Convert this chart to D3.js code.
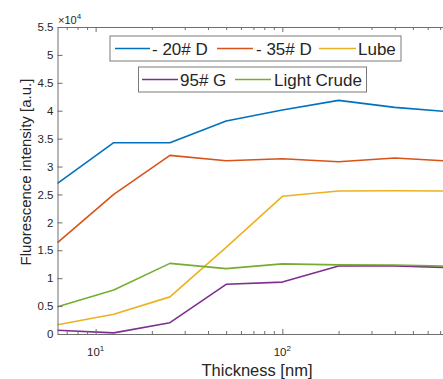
<!DOCTYPE html>
<html>
<head>
<meta charset="utf-8">
<script src="https://cdn.jsdelivr.net/npm/d3@7"></script>
<style>
  html, body { margin: 0; padding: 0; background: #fff; overflow: hidden; }
  svg { display: block; font-family: "Liberation Sans", Arial, Helvetica, sans-serif; }
</style>
</head>
<body>
<svg id="chart" width="443" height="379"></svg>
<script>
// Film thickness (nm) at which each sample was measured
const thickness = [6.25, 12.5, 25, 50, 100, 200, 400, 800];

// Fluorescence intensity per sample (a.u.)
const seriesNames = ["- 20# D", "- 35# D", "Lube", "95# G", "Light Crude"];
const d20 = [27000, 34270, 34270, 38160, 40130, 41850, 40600, 39800];
const d35 = [16360, 25030, 32000, 31050, 31400, 30870, 31530, 30950];
const lube = [1670, 3530, 6650, 15530, 24670, 25620, 25670, 25600];
const g95 = [660, 200, 2030, 8900, 9300, 12200, 12200, 11900];
const lightCrude = [4900, 7880, 12650, 11720, 12560, 12380, 12360, 12150];
const seriesColors = ["#0072BD", "#D95319", "#EDB120", "#7E2F8E", "#77AC30"];

// Axis ticks
const yTicks = [0, 5000, 10000, 15000, 20000, 25000, 30000, 35000, 40000, 45000, 50000, 55000];
const xMajorTicks = [10, 100];
const xMinorTicks = [7, 8, 9, 20, 30, 40, 50, 60, 70, 80, 90, 200, 300, 400, 500, 600, 700, 800];
const xTickExponents = ["1", "2"];

const allSeries = [d20, d35, lube, g95, lightCrude];

const svg = d3.select("#chart");
const plotLeft = 57.5, plotTop = 27, plotBottom = 334, plotRight = 451;

const x = d3.scaleLog().domain([6.25, 800]).range([plotLeft, plotRight]);
const y = d3.scaleLinear().domain([0, 55000]).range([plotBottom, plotTop]);

const axisColor = "#6e6e6e";
const textColor = "#262626";

// Data lines
const line = d3.line().x((d, i) => x(thickness[i])).y(d => y(d));
allSeries.forEach((vals, k) => {
  svg.append("path")
    .datum(vals)
    .attr("fill", "none")
    .attr("stroke", seriesColors[k])
    .attr("stroke-width", 1.6)
    .attr("stroke-linejoin", "round")
    .attr("d", line);
});

// Y axis (ticks point inward)
const yAxis = svg.append("g")
  .attr("transform", `translate(${plotLeft},0)`)
  .call(d3.axisLeft(y).tickValues(yTicks).tickSize(-5).tickSizeOuter(0).tickPadding(4)
    .tickFormat(d => d3.format("~g")(d / 10000)));
yAxis.select(".domain").attr("stroke", axisColor);
yAxis.selectAll(".tick line").attr("stroke", axisColor);
yAxis.selectAll(".tick text")
  .attr("fill", textColor)
  .style("font-size", "11.5px")
  .style("font-family", "'Liberation Sans', Arial, sans-serif");

// Bottom axis: major and minor ticks inward
const xAxisMinor = svg.append("g")
  .attr("transform", `translate(0,${plotBottom})`)
  .call(d3.axisBottom(x).tickValues(xMinorTicks).tickSize(-3).tickSizeOuter(0).tickFormat(""));
xAxisMinor.select(".domain").attr("stroke", axisColor);
xAxisMinor.selectAll(".tick line").attr("stroke", axisColor);

const xAxisMajor = svg.append("g")
  .attr("transform", `translate(0,${plotBottom})`)
  .call(d3.axisBottom(x).tickValues(xMajorTicks).tickSize(-5).tickSizeOuter(0).tickFormat(""));
xAxisMajor.select(".domain").remove();
xAxisMajor.selectAll(".tick line").attr("stroke", axisColor);

// Power-of-ten labels
xMajorTicks.forEach((t, i) => {
  const lbl = svg.append("text")
    .attr("x", x(t))
    .attr("y", 356)
    .attr("text-anchor", "middle")
    .attr("fill", textColor)
    .style("font-size", "11.5px");
  lbl.append("tspan").text("10");
  lbl.append("tspan").attr("dy", -5).style("font-size", "8px").text(xTickExponents[i]);
});

// Top axis (box), ticks inward, no labels
const topMinor = svg.append("g")
  .attr("transform", `translate(0,${plotTop})`)
  .call(d3.axisTop(x).tickValues(xMinorTicks).tickSize(-3).tickSizeOuter(0).tickFormat(""));
topMinor.select(".domain").attr("stroke", axisColor);
topMinor.selectAll(".tick line").attr("stroke", axisColor);
const topMajor = svg.append("g")
  .attr("transform", `translate(0,${plotTop})`)
  .call(d3.axisTop(x).tickValues(xMajorTicks).tickSize(-5).tickSizeOuter(0).tickFormat(""));
topMajor.select(".domain").remove();
topMajor.selectAll(".tick line").attr("stroke", axisColor);

// Exponent multiplier
const mult = svg.append("text")
  .attr("x", 58)
  .attr("y", 24)
  .attr("fill", textColor)
  .style("font-size", "11px");
mult.append("tspan").text("\u00d710");
mult.append("tspan").attr("dy", -5).style("font-size", "8px").text("4");

// Axis titles
svg.append("text")
  .attr("x", 257)
  .attr("y", 376)
  .attr("text-anchor", "middle")
  .attr("fill", textColor)
  .style("font-size", "16.5px")
  .text("Thickness [nm]");

svg.append("text")
  .attr("transform", "translate(31,172) rotate(-90)")
  .attr("text-anchor", "middle")
  .attr("fill", textColor)
  .style("font-size", "15px")
  .text("Fluorescence intensity [a.u.]");

// Legends: two boxed rows
const legendRows = [
  { box: [110, 36, 291, 25], items: [[0, 115, 150, 152], [1, 217, 253, 256], [2, 319, 356, 358]] },
  { box: [138.5, 67, 228, 25], items: [[3, 142, 178, 180], [4, 235, 271, 274]] }
];
legendRows.forEach(row => {
  const [bx, by, bw, bh] = row.box;
  svg.append("rect")
    .attr("x", bx).attr("y", by).attr("width", bw).attr("height", bh)
    .attr("fill", "#fff").attr("stroke", "#7a7a7a").attr("stroke-width", 1);
  row.items.forEach(([k, x1, x2, tx]) => {
    const cy = by + bh / 2;
    svg.append("line")
      .attr("x1", x1).attr("x2", x2).attr("y1", cy).attr("y2", cy)
      .attr("stroke", seriesColors[k]).attr("stroke-width", 1.6);
    svg.append("text")
      .attr("x", tx).attr("y", cy + 6)
      .attr("fill", textColor)
      .style("font-size", "17px")
      .text(seriesNames[k]);
  });
});
</script>
</body>
</html>
